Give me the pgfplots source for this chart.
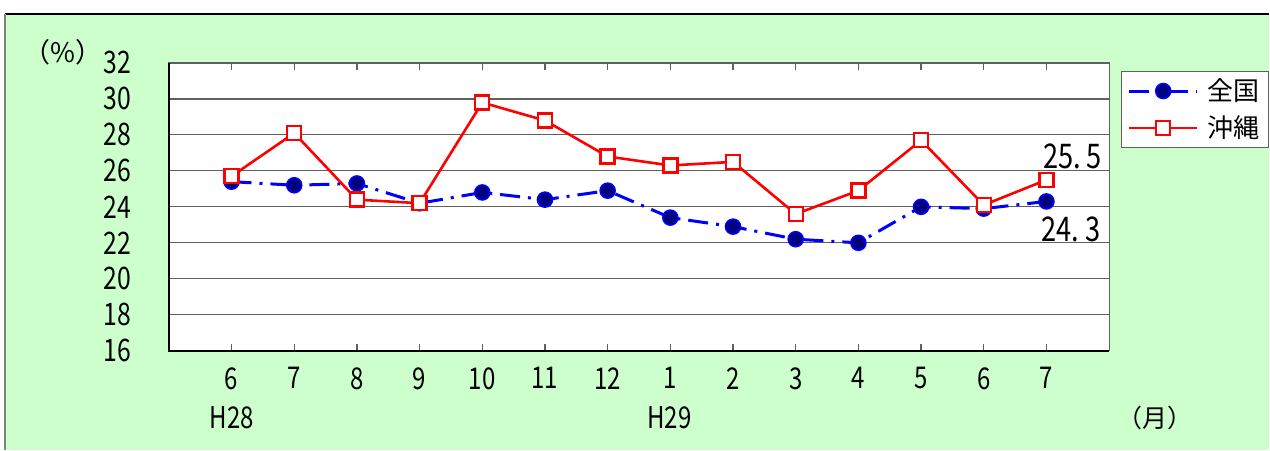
\documentclass[border=0pt]{standalone}
\usepackage{fontspec}
\setmainfont{Noto Sans CJK JP}[FakeStretch=0.8]
\newfontfamily\jp{Noto Sans CJK JP}
\usepackage{pgfplots}
\pgfplotsset{compat=1.18}
\definecolor{bg}{HTML}{CCFFCC}
\definecolor{gridc}{HTML}{606060}
\definecolor{navyc}{HTML}{000080}
\begin{document}
\begin{tikzpicture}[x=0.5pt,y=0.5pt]
\fill[white] (0,0) rectangle (1270,450);
\fill[bg] (6,0) rectangle (1270,436);
\draw[black, line width=1pt] (5,436) -- (1270,436);
\draw[gray, line width=1pt] (5,0) -- (5,436);
\begin{axis}[
  at={(84.5pt,49.5pt)}, anchor=south west,
  scale only axis, width=470.5pt, height=144pt,
  xmin=-1, xmax=14, ymin=16, ymax=32,
  ytick={16,18,...,32},
  xtick={0,...,13},
  xticklabels={6,7,8,9,10,11,12,1,2,3,4,5,6,7},
  ymajorgrids, grid style={color=gridc, line width=0.6pt},
  axis line style={color=gridc, line width=0.6pt},
  axis background/.style={fill=white},
  tick align=inside,
  major tick length=3.5pt,
  xtick style={color=gridc, line width=0.6pt},
  ytick style={draw=none},
  /pgf/number format/assume math mode=true,
  yticklabel style={font=\fontsize{15.5}{16}\selectfont, anchor=east, inner sep=0pt, xshift=-19.5pt+0.8pt},
  xticklabel style={font=\fontsize{15}{16}\selectfont, anchor=north, inner sep=0pt, yshift=-9pt+0.8pt},
  clip=false,
  legend style={at={(1.0128,0.972)}, anchor=north west, draw=gridc, line width=0.6pt, fill=white,
    font=\jp\fontsize{13}{14}\selectfont, inner xsep=3pt, inner ysep=2pt, row sep=3pt,
    nodes={inner sep=1.5pt}},
  legend cell align=left,
  legend image code/.code={\draw[mark repeat=2,mark phase=2,#1] plot coordinates {(0pt,0pt) (17pt,0pt) (34pt,0pt)};},
]
\addplot[color=blue, line width=1.5pt, dash pattern=on 10pt off 4pt on 1.5pt off 4pt,
  mark=*, mark size=3.75pt, mark options={solid, fill=navyc, draw=blue, line width=0.8pt}]
  coordinates {(0,25.4) (1,25.2) (2,25.3) (3,24.2) (4,24.8) (5,24.4) (6,24.9) (7,23.4) (8,22.9) (9,22.2) (10,22.0) (11,24.0) (12,23.9) (13,24.3)};
\addlegendentry{\hspace{3pt}全国}
\addplot[color=red, line width=1.3pt,
  mark=square*, mark size=3.5pt, mark options={solid, fill=white, draw=red, line width=1.2pt}]
  coordinates {(0,25.7) (1,28.1) (2,24.4) (3,24.2) (4,29.8) (5,28.8) (6,26.8) (7,26.3) (8,26.5) (9,23.6) (10,24.9) (11,27.7) (12,24.1) (13,25.5)};
\addlegendentry{\hspace{3pt}沖縄}
\draw[black, line width=1pt] (rel axis cs:0,1) -- (rel axis cs:0,0) -- (rel axis cs:1,0);
\node[font=\fontsize{17}{18}\selectfont, inner sep=0pt] at (axis cs:13.42,26.78) {25.\,5};
\node[font=\fontsize{17}{18}\selectfont, inner sep=0pt] at (axis cs:13.39,22.72) {24.\,3};
\end{axis}
\node[font=\jp\fontsize{13.5}{15}\selectfont, inner sep=0pt] at (63,398) {（\%）};
\node[font=\jp\fontsize{12.5}{14}\selectfont, inner sep=0pt] at (1156,32) {（月）};
\node[font=\fontsize{15}{16}\selectfont, inner sep=0pt] at (232,32) {H28};
\node[font=\fontsize{15}{16}\selectfont, inner sep=0pt] at (670,32) {H29};
\end{tikzpicture}
\end{document}
